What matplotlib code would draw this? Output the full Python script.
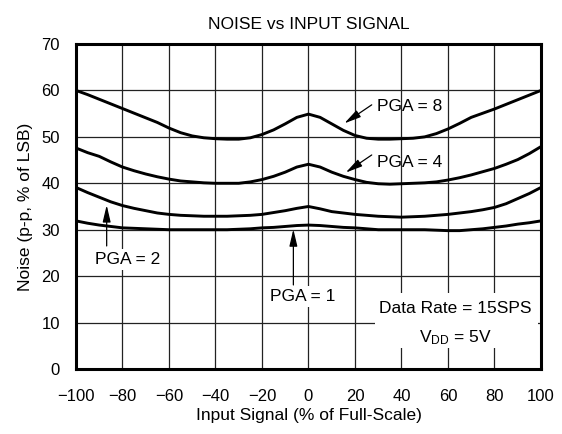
import numpy as np
import matplotlib.pyplot as plt
from matplotlib.patches import Rectangle

plt.rcParams['font.family'] = ['Liberation Sans', 'DejaVu Sans']

x = np.arange(-100, 101, 5)

pga8 = [60, 59.1, 58.1, 57.1, 56.1, 55.1, 54.1, 53.1, 51.9, 50.9, 50.2,
        49.8, 49.6, 49.5, 49.5, 49.8, 50.5, 51.5, 52.8, 54.2, 54.9,
        54.2, 52.8, 51.4, 50.3, 49.7, 49.5, 49.5, 49.6, 49.7, 50,
        50.7, 51.7, 52.9, 54.2, 55.1, 56, 57, 58, 59, 60]
pga4 = [47.6, 46.6, 45.8, 44.6, 43.5, 42.7, 42, 41.4, 40.9, 40.5, 40.3,
        40.1, 40, 40, 40, 40.3, 40.8, 41.5, 42.4, 43.5, 44.1,
        43.5, 42.4, 41.5, 40.8, 40.2, 39.9, 39.8, 39.9, 40, 40.1,
        40.3, 40.7, 41.2, 41.8, 42.5, 43.2, 44.1, 45.1, 46.4, 47.9]
pga2 = [39.1, 38, 37, 36, 35.2, 34.6, 34.1, 33.6, 33.3, 33.1, 33,
        32.9, 32.9, 32.9, 33, 33.1, 33.3, 33.7, 34.1, 34.6, 35,
        34.5, 33.9, 33.6, 33.3, 33.1, 32.9, 32.8, 32.7, 32.8, 32.9,
        33.1, 33.3, 33.6, 33.9, 34.3, 34.8, 35.6, 36.7, 37.8, 39.1]
pga1 = [31.9, 31.4, 31, 30.7, 30.4, 30.3, 30.2, 30.1, 30, 30, 30,
        30, 30, 30, 30.1, 30.2, 30.4, 30.5, 30.7, 30.9, 31,
        30.9, 30.7, 30.5, 30.4, 30.2, 30, 30, 30, 30, 30,
        29.9, 29.8, 29.8, 30, 30.2, 30.5, 30.8, 31.2, 31.5, 31.9]

fig = plt.figure(figsize=(5.62, 4.34), dpi=100)
ax = fig.add_axes([0.1352, 0.1498, 0.8274, 0.7488])

for y in (pga8, pga4, pga2, pga1):
    ax.plot(x, y, color='black', lw=2.1, zorder=3)

ax.set_xlim(-100, 100)
ax.set_ylim(0, 70)
ax.set_xticks(np.arange(-100, 101, 20))
ax.set_yticks(np.arange(0, 71, 10))
ax.grid(True, color='#222222', lw=0.9)
ax.tick_params(length=0, labelsize=12)
ax.tick_params(axis='x', pad=14.5)
ax.tick_params(axis='y', pad=11.5)
for s in ax.spines.values():
    s.set_linewidth(2.2)

ax.set_title('NOISE vs INPUT SIGNAL', fontsize=12.5, pad=11)
ax.set_xlabel('Input Signal (% of Full-Scale)', fontsize=12.5, labelpad=3)
ax.set_ylabel('Noise (p-p, % of LSB)', fontsize=12.5, labelpad=6)

arrow = dict(arrowstyle='-|>,head_length=0.85,head_width=0.2', color='black',
             lw=0.9, mutation_scale=12, shrinkA=0, shrinkB=0)
fs = 12.5

# PGA = 8 and PGA = 4 labels with slanted arrows
ax.annotate('', xy=(15.4, 52.9), xytext=(27.2, 56.9), arrowprops=arrow, zorder=5)
ax.text(29.3, 56.5, 'PGA = 8', fontsize=fs, va='center', zorder=5)
ax.annotate('', xy=(16, 42.3), xytext=(27.2, 46.1), arrowprops=arrow, zorder=5)
ax.text(29.3, 44.4, 'PGA = 4', fontsize=fs, va='center', zorder=5)

# PGA = 2 and PGA = 1 labels with vertical arrows
ax.annotate('', xy=(-86.8, 35.3), xytext=(-86.8, 26.5), arrowprops=arrow, zorder=5)
ax.text(-77.8, 23.6, 'PGA = 2', fontsize=fs, ha='center', va='center', zorder=5,
        bbox=dict(fc='white', ec='none', pad=2))
ax.annotate('', xy=(-6.5, 30.1), xytext=(-6.5, 18.1), arrowprops=arrow, zorder=5)
ax.text(-2.6, 15.6, 'PGA = 1', fontsize=fs, ha='center', va='center', zorder=5,
        bbox=dict(fc='white', ec='none', pad=2))

# conditions box
ax.add_patch(Rectangle((28.6, 4.5), 70.2, 11.9, fc='white', ec='none', zorder=4))
ax.text(63, 13.1, 'Data Rate = 15SPS', fontsize=fs, ha='center', va='center', zorder=5)
ax.text(63, 6.7, '$\\mathregular{V_{DD}}$ = 5V', fontsize=fs, ha='center',
        va='center', zorder=5)

fig.savefig('out.png', dpi=100)
